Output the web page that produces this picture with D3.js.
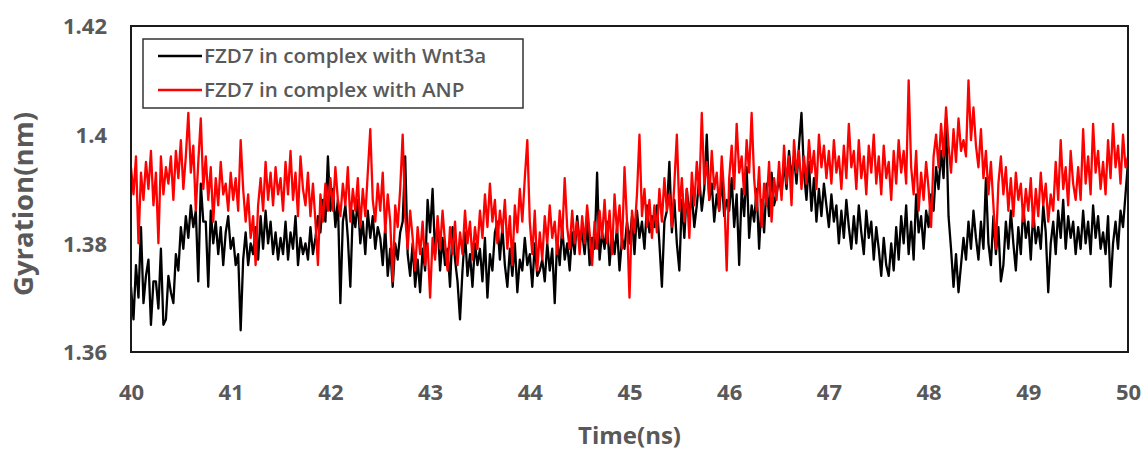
<!DOCTYPE html>
<html>
<head>
<meta charset="utf-8">
<script src="https://cdn.jsdelivr.net/npm/d3@7/dist/d3.min.js"></script>
<style>
  html, body { margin: 0; padding: 0; background: #fff; }
  svg { display: block; }
  text { font-family: "Open Sans", "Noto Sans", sans-serif; }
</style>
</head>
<body>
<svg id="chart" width="1146" height="450"></svg>
<script>
// ---- data ----
const tStart = 40, tEnd = 50, tStep = 0.025;
const xTicks = [40, 41, 42, 43, 44, 45, 46, 47, 48, 49, 50];
const yTicks = [1.36, 1.38, 1.40, 1.42];
const yTickLabels = ["1.36", "1.38", "1.4", "1.42"];
const seriesNames = ["FZD7 in complex with Wnt3a", "FZD7 in complex with ANP"];

const wnt3a = [
1.372,1.366,1.376,1.370,1.383,1.369,1.374,1.377,1.365,1.373,
1.373,1.368,1.379,1.365,1.366,1.374,1.371,1.369,1.378,1.375,
1.383,1.379,1.385,1.381,1.387,1.383,1.386,1.373,1.391,1.384,
1.384,1.372,1.386,1.380,1.384,1.378,1.383,1.376,1.382,1.385,
1.379,1.381,1.376,1.378,1.364,1.377,1.382,1.376,1.380,1.378,
1.383,1.377,1.385,1.379,1.386,1.380,1.384,1.378,1.382,1.377,
1.381,1.378,1.384,1.377,1.382,1.379,1.385,1.376,1.381,1.378,
1.380,1.377,1.383,1.378,1.381,1.385,1.382,1.388,1.384,1.396,
1.386,1.390,1.383,1.388,1.369,1.384,1.387,1.381,1.372,1.386,
1.383,1.388,1.380,1.384,1.378,1.386,1.381,1.385,1.379,1.383,
1.381,1.376,1.383,1.374,1.379,1.372,1.380,1.377,1.382,1.384,
1.396,1.378,1.374,1.380,1.372,1.377,1.371,1.379,1.375,1.388,
1.382,1.390,1.378,1.384,1.375,1.381,1.376,1.379,1.372,1.383,
1.377,1.373,1.366,1.375,1.382,1.374,1.378,1.372,1.380,1.376,
1.379,1.373,1.381,1.370,1.378,1.375,1.382,1.384,1.377,1.383,
1.376,1.372,1.379,1.374,1.380,1.371,1.377,1.375,1.381,1.376,
1.378,1.372,1.380,1.374,1.375,1.377,1.373,1.380,1.375,1.379,
1.369,1.381,1.376,1.383,1.377,1.380,1.375,1.382,1.378,1.385,
1.380,1.382,1.378,1.384,1.376,1.381,1.379,1.393,1.377,1.382,
1.379,1.384,1.376,1.382,1.378,1.383,1.375,1.381,1.379,1.384,
1.380,1.385,1.378,1.386,1.381,1.384,1.379,1.387,1.382,1.385,
1.383,1.387,1.380,1.372,1.384,1.386,1.395,1.382,1.388,1.380,
1.375,1.388,1.381,1.390,1.385,1.389,1.383,1.387,1.392,1.386,
1.390,1.400,1.388,1.391,1.384,1.389,1.386,1.392,1.385,1.388,
1.386,1.392,1.383,1.389,1.376,1.390,1.385,1.394,1.381,1.387,
1.384,1.390,1.379,1.388,1.382,1.391,1.385,1.393,1.387,1.389,
1.392,1.389,1.395,1.390,1.397,1.392,1.396,1.391,1.398,1.404,
1.393,1.388,1.395,1.386,1.392,1.384,1.390,1.385,1.391,1.387,
1.383,1.389,1.384,1.387,1.380,1.386,1.381,1.388,1.383,1.379,
1.385,1.380,1.387,1.382,1.378,1.386,1.381,1.384,1.377,1.383,
1.379,1.374,1.381,1.376,1.374,1.380,1.375,1.383,1.377,1.385,
1.380,1.387,1.378,1.384,1.377,1.389,1.382,1.385,1.379,1.386,
1.383,1.389,1.386,1.394,1.390,1.397,1.392,1.403,1.385,1.379,
1.372,1.378,1.371,1.376,1.381,1.377,1.384,1.379,1.386,1.381,
1.377,1.384,1.379,1.392,1.380,1.376,1.385,1.378,1.383,1.373,
1.376,1.384,1.379,1.386,1.380,1.375,1.383,1.378,1.387,1.381,
1.384,1.377,1.386,1.380,1.383,1.379,1.387,1.382,1.371,1.380,
1.384,1.378,1.386,1.381,1.388,1.379,1.385,1.381,1.384,1.378,
1.383,1.379,1.386,1.380,1.384,1.378,1.387,1.381,1.385,1.379,
1.382,1.378,1.385,1.372,1.380,1.384,1.379,1.386,1.383,1.389,
1.395];

const anp = [
1.394,1.389,1.396,1.380,1.393,1.388,1.395,1.390,1.397,1.387,
1.393,1.380,1.396,1.389,1.394,1.391,1.396,1.388,1.397,1.392,
1.399,1.390,1.396,1.404,1.393,1.398,1.386,1.395,1.403,1.390,
1.396,1.388,1.394,1.384,1.392,1.387,1.395,1.389,1.391,1.386,
1.393,1.388,1.392,1.386,1.399,1.390,1.384,1.389,1.381,1.385,
1.376,1.387,1.392,1.386,1.395,1.388,1.393,1.387,1.394,1.389,
1.392,1.386,1.395,1.389,1.397,1.388,1.393,1.385,1.396,1.390,
1.387,1.393,1.385,1.391,1.384,1.376,1.389,1.384,1.391,1.386,
1.392,1.386,1.394,1.388,1.385,1.391,1.387,1.394,1.384,1.390,
1.386,1.392,1.383,1.390,1.385,1.393,1.401,1.388,1.384,1.391,
1.386,1.393,1.382,1.389,1.384,1.373,1.387,1.383,1.390,1.400,
1.385,1.379,1.386,1.381,1.375,1.383,1.378,1.384,1.376,1.380,
1.370,1.381,1.377,1.385,1.379,1.386,1.380,1.375,1.383,1.378,
1.384,1.376,1.382,1.378,1.386,1.380,1.384,1.377,1.383,1.379,
1.386,1.381,1.389,1.383,1.391,1.384,1.388,1.380,1.386,1.382,
1.388,1.379,1.385,1.376,1.387,1.382,1.390,1.384,1.392,1.399,
1.384,1.378,1.386,1.375,1.382,1.377,1.385,1.380,1.387,1.381,
1.384,1.378,1.386,1.381,1.392,1.383,1.379,1.386,1.380,1.384,
1.378,1.385,1.380,1.387,1.382,1.376,1.384,1.379,1.386,1.381,
1.388,1.380,1.386,1.378,1.389,1.382,1.387,1.379,1.394,1.384,
1.370,1.386,1.382,1.389,1.400,1.385,1.390,1.383,1.388,1.381,
1.387,1.382,1.390,1.384,1.392,1.386,1.389,1.383,1.391,1.400,
1.386,1.392,1.384,1.390,1.381,1.393,1.387,1.395,1.389,1.404,
1.391,1.395,1.388,1.397,1.390,1.393,1.386,1.396,1.389,1.375,
1.392,1.398,1.390,1.402,1.393,1.396,1.389,1.399,1.393,1.404,
1.392,1.386,1.394,1.383,1.391,1.387,1.395,1.384,1.392,1.388,
1.395,1.388,1.398,1.391,1.396,1.387,1.399,1.393,1.397,1.390,
1.396,1.391,1.399,1.393,1.397,1.390,1.400,1.394,1.398,1.392,
1.397,1.391,1.399,1.393,1.396,1.390,1.398,1.392,1.402,1.394,
1.397,1.390,1.399,1.392,1.396,1.389,1.398,1.393,1.400,1.391,
1.396,1.389,1.398,1.392,1.395,1.388,1.397,1.391,1.399,1.393,
1.397,1.391,1.410,1.394,1.389,1.397,1.386,1.393,1.388,1.395,
1.390,1.383,1.396,1.400,1.394,1.402,1.396,1.405,1.398,1.393,
1.401,1.395,1.403,1.397,1.399,1.396,1.410,1.399,1.405,1.398,
1.394,1.401,1.392,1.397,1.389,1.395,1.387,1.379,1.391,1.396,
1.389,1.394,1.386,1.392,1.385,1.393,1.388,1.391,1.384,1.390,
1.386,1.392,1.383,1.390,1.385,1.393,1.387,1.391,1.384,1.389,
1.386,1.395,1.388,1.399,1.390,1.394,1.387,1.397,1.391,1.388,
1.394,1.388,1.401,1.391,1.396,1.389,1.402,1.393,1.397,1.390,
1.395,1.389,1.399,1.392,1.402,1.394,1.398,1.391,1.400,1.394,
1.396];

const seriesColors = ["#000000", "#ff0000"];

// ---- drawing ----
const W = 1146, H = 450;
const margin = { left: 131, right: 18, top: 26, bottom: 98 };
const svg = d3.select("#chart");
const x = d3.scaleLinear().domain([tStart, tEnd]).range([margin.left, W - margin.right]);
const y = d3.scaleLinear().domain([1.36, 1.42]).range([H - margin.bottom, margin.top]);

const toPoints = arr => arr.map((v, i) => ({ t: tStart + i * tStep, v }));
const datasets = [toPoints(wnt3a), toPoints(anp)];

svg.append("defs").append("clipPath").attr("id", "clip")
  .append("rect")
  .attr("x", x(tStart)).attr("y", y(1.42))
  .attr("width", x(tEnd) - x(tStart)).attr("height", y(1.36) - y(1.42));

const line = d3.line().x(d => x(d.t)).y(d => y(d.v));

const gLines = svg.append("g").attr("clip-path", "url(#clip)");
datasets.forEach((ds, i) => {
  gLines.append("path")
    .datum(ds)
    .attr("fill", "none")
    .attr("stroke", seriesColors[i])
    .attr("stroke-width", 2.3)
    .attr("stroke-linejoin", "round")
    .attr("d", line);
});

// frame
svg.append("rect")
  .attr("x", x(tStart)).attr("y", y(1.42))
  .attr("width", x(tEnd) - x(tStart)).attr("height", y(1.36) - y(1.42))
  .attr("fill", "none").attr("stroke", "#1a1a1a").attr("stroke-width", 2);

// axes
const tickColor = "#595959";
const xAxis = d3.axisBottom(x).tickValues(xTicks).tickSize(0).tickPadding(0).tickFormat(d3.format("d"));
const gx = svg.append("g").attr("transform", `translate(0,${y(1.36)})`).call(xAxis);
gx.select(".domain").remove();
gx.selectAll("text")
  .attr("dy", null).attr("y", 48)
  .attr("fill", tickColor).style("font-size", "22px").style("font-weight", "bold")
  .style("font-family", "'Open Sans', sans-serif");

const yAxis = d3.axisLeft(y).tickValues(yTicks).tickSize(0).tickPadding(0)
  .tickFormat((d, i) => yTickLabels[i]);
const gy = svg.append("g").attr("transform", `translate(${x(tStart)},0)`).call(yAxis);
gy.select(".domain").remove();
gy.selectAll("text")
  .attr("x", -24).attr("dy", "0.36em")
  .attr("fill", tickColor).style("font-size", "22px").style("font-weight", "bold")
  .style("font-family", "'Open Sans', sans-serif");

// axis titles
svg.append("text")
  .attr("x", (x(tStart) + x(tEnd)) / 2).attr("y", 444)
  .attr("text-anchor", "middle")
  .attr("fill", tickColor).style("font-size", "24px").style("font-weight", "bold")
  .text("Time(ns)");

svg.append("text")
  .attr("transform", `translate(33,204) rotate(-90)`)
  .attr("text-anchor", "middle")
  .attr("fill", tickColor).style("font-size", "26px").style("font-weight", "bold")
  .attr("textLength", 184).attr("lengthAdjust", "spacingAndGlyphs")
  .text("Gyration(nm)");

// legend
const lg = svg.append("g");
lg.append("rect").attr("x", 143).attr("y", 39).attr("width", 380).attr("height", 69)
  .attr("fill", "#fff").attr("stroke", "#333").attr("stroke-width", 1.5);
seriesNames.forEach((name, i) => {
  const cy = 56 + i * 34;
  lg.append("line").attr("x1", 158).attr("x2", 202).attr("y1", cy).attr("y2", cy)
    .attr("stroke", seriesColors[i]).attr("stroke-width", 2.5);
  lg.append("text").attr("x", 204).attr("y", cy).attr("dy", "0.35em")
    .attr("fill", tickColor).style("font-size", "20.6px").style("font-weight", "600")
    .text(name);
});
</script>
</body>
</html>
